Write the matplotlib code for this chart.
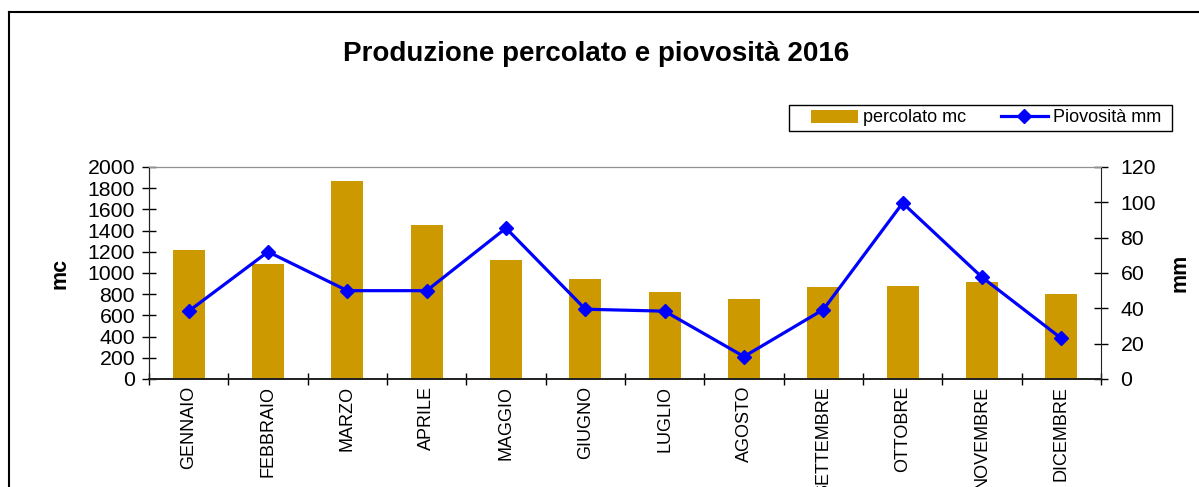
import matplotlib
matplotlib.use("Agg")
import matplotlib.pyplot as plt
from matplotlib.lines import Line2D
from matplotlib.patches import Rectangle

plt.rcParams['font.family'] = ['Liberation Sans', 'DejaVu Sans']

# monthly data
mesi = ["GENNAIO", "FEBBRAIO", "MARZO", "APRILE", "MAGGIO", "GIUGNO",
        "LUGLIO", "AGOSTO", "SETTEMBRE", "OTTOBRE", "NOVEMBRE", "DICEMBRE"]
percolato_mc = [1220, 1088, 1870, 1455, 1125, 945, 822, 756, 869, 879, 917, 803]
piovosita_mm = [38.4, 72.0, 50.0, 50.0, 85.4, 39.5, 38.4, 12.7, 39.3, 99.6, 57.6, 23.0]

bar_col = "#CC9900"
line_col = "#0000FF"

fig = plt.figure(figsize=(11.99, 4.87), dpi=100)
ax = fig.add_axes([149/1199, 108/487, 952/1199, 212/487])
ax2 = ax.twinx()

x = range(len(mesi))
bars = ax.bar(x, percolato_mc, width=0.4, color=bar_col, zorder=2)
line, = ax2.plot(x, piovosita_mm, color=line_col, lw=2.3, marker='D',
                 markersize=7, zorder=3)

ax.set_xlim(-0.5, len(mesi) - 0.5)
ax.set_ylim(0, 2000)
ax.set_yticks(range(0, 2001, 200))
ax2.set_ylim(0, 120)
ax2.set_yticks(range(0, 121, 20))

# category labels at centres, tick marks between categories
ax.set_xticks(list(x))
ax.set_xticklabels(mesi, rotation=90, fontsize=13)
ax.tick_params(axis='x', which='major', length=0, pad=5)
ax.set_xticks([i - 0.5 for i in range(len(mesi) + 1)], minor=True)
ax.tick_params(axis='x', which='minor', direction='inout', length=9, width=1)

ax.tick_params(axis='y', direction='inout', length=10, width=1, labelsize=15.3, pad=5)
ax2.tick_params(axis='y', direction='inout', length=10, width=1, labelsize=15.3, pad=9)

for a in (ax, ax2):
    a.spines['top'].set_color('#909090')
    a.spines['left'].set_color('#222222')
    a.spines['right'].set_color('#222222')
    a.spines['bottom'].set_color('#222222')
    a.spines['bottom'].set_linewidth(1.3)
ax.spines['right'].set_visible(False)
ax2.set_zorder(ax.get_zorder() + 1)
ax2.patch.set_visible(False)

ax.set_ylabel("mc", fontsize=15.5, fontweight='bold', labelpad=12)
ax2.set_ylabel("mm", fontsize=15.5, fontweight='bold', labelpad=10)

fig.text(0.497, 1 - 61/487, "Produzione percolato e piovosità 2016",
         ha='center', va='baseline', fontsize=20, fontweight='bold')

# legend box drawn by hand, entries placed inside it
fig.add_artist(Rectangle((789/1199, 1 - 131/487), 383/1199, 26/487,
                         transform=fig.transFigure, facecolor='white',
                         edgecolor='black', lw=1))
leg = fig.legend([bars, line], ["percolato mc", "Piovosità mm"],
                 loc='center', bbox_to_anchor=(986/1199, 1 - 118/487),
                 ncol=2, fontsize=13, frameon=False,
                 borderpad=0, handlelength=2.6,
                 handletextpad=0.3, columnspacing=1.9, borderaxespad=0)

# outer chart frame (cut off on the right and bottom)
x0 = 9/1199
ytop = 1 - 12/487
fig.add_artist(Line2D([x0, 1.01], [ytop, ytop], color='black', lw=1.5))
fig.add_artist(Line2D([x0, x0], [-0.01, ytop], color='black', lw=1.5))

plt.savefig("out.png", dpi=100)
